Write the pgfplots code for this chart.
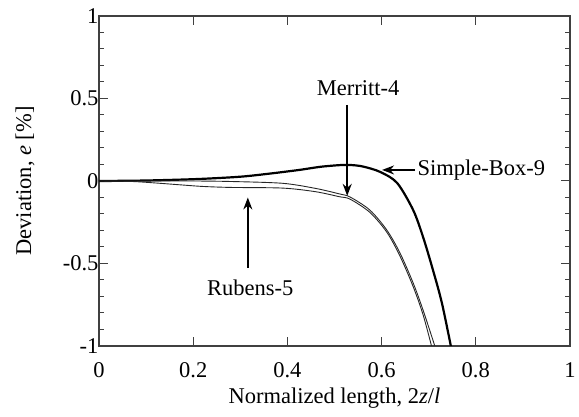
\documentclass[border=0pt]{standalone}
\usepackage{fontspec}
\setmainfont{Liberation Serif}
\usepackage{pgfplots}
\pgfplotsset{compat=1.18}
\usetikzlibrary{arrows.meta}
\newcommand{\bigf}{\fontsize{22.5}{27}\selectfont}
\begin{document}
\begin{tikzpicture}
\path[use as bounding box] (-99pt,-71pt) rectangle (480pt,346pt);
\begin{axis}[
  at={(0,0)}, anchor=south west,
  width=471pt, height=330pt, scale only axis,
  xmin=0, xmax=1, ymin=-1, ymax=1,
  xtick={0,0.2,0.4,0.6,0.8,1},
  xticklabels={0,0.2,0.4,0.6,0.8,1},
  ytick={-1,-0.5,0,0.5,1},
  yticklabels={-1,-0.5,0,0.5,1},
  minor ytick={-0.9,-0.8,-0.7,-0.6,-0.4,-0.3,-0.2,-0.1,0.1,0.2,0.3,0.4,0.6,0.7,0.8,0.9},
  tick align=inside,
  major tick length=9pt, minor tick length=5pt,
  every tick/.style={black!75, line width=1pt},
  axis line style={black!75, line width=1.3pt},
  tick label style={font=\bigf},
  xticklabel style={yshift=-13pt},
  yticklabel style={xshift=3pt},
  label style={font=\bigf},
  xlabel={Normalized length, 2\textit{z}/\textit{l}},
  ylabel={Deviation, \textit{e} [\%]},
  xlabel style={at={(axis description cs:0.5,-0.158)}, anchor=center},
  ylabel style={at={(axis description cs:-0.157,0.5)}, anchor=center, rotate=0},
  clip=true,
]
% Simple-Box-9
\addplot[black, line width=2.2pt, smooth] coordinates {
(0,0) (0.1,0.003) (0.21,0.012) (0.3,0.026) (0.363,0.045) (0.425,0.067)
(0.47,0.086) (0.51,0.096) (0.533,0.097) (0.56,0.088) (0.597,0.055)
(0.633,-0.012) (0.667,-0.176) (0.688,-0.339) (0.709,-0.539) (0.728,-0.739) (0.747,-1.0)
};
% Merritt-4
\addplot[black!85, line width=0.9pt, smooth] coordinates {
(0,0) (0.1,0.0) (0.2,0.0) (0.28,-0.003) (0.39,-0.014) (0.46,-0.045)
(0.51,-0.078) (0.533,-0.097) (0.575,-0.176) (0.611,-0.297) (0.639,-0.436)
(0.667,-0.618) (0.688,-0.782) (0.713,-1.0)
};
% Rubens-5
\addplot[black!85, line width=0.9pt, smooth] coordinates {
(0,0) (0.07,-0.003) (0.12,-0.012) (0.176,-0.024) (0.22,-0.033) (0.28,-0.039)
(0.39,-0.043) (0.46,-0.065) (0.51,-0.095) (0.533,-0.11) (0.575,-0.19)
(0.611,-0.31) (0.639,-0.455) (0.667,-0.64) (0.688,-0.81) (0.706,-1.0)
};
% annotations
\draw[-{Stealth[length=12pt,width=9pt]}, line width=1.5pt] (axis cs:0.527,0.461) -- (axis cs:0.527,-0.09);
\node[font=\bigf] at (axis cs:0.55,0.564) {Merritt-4};
\draw[-{Stealth[length=12pt,width=9pt]}, line width=1.5pt] (axis cs:0.671,0.067) -- (axis cs:0.601,0.067);
\node[font=\bigf, anchor=west, inner sep=1pt] at (axis cs:0.674,0.067) {Simple-Box-9};
\draw[-{Stealth[length=12pt,width=9pt]}, line width=1.5pt] (axis cs:0.316,-0.527) -- (axis cs:0.316,-0.1);
\node[font=\bigf] at (axis cs:0.321,-0.648) {Rubens-5};
\end{axis}
\end{tikzpicture}
\end{document}
